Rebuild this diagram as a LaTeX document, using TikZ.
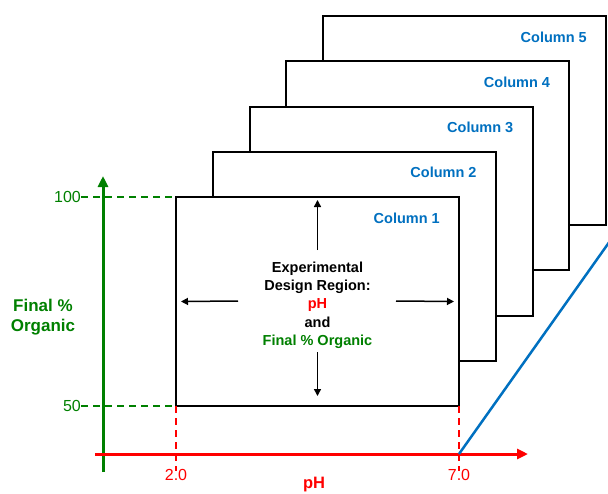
\documentclass[tikz,border=0pt]{standalone}
\usepackage{fontspec}
\setmainfont{Liberation Sans}
\usetikzlibrary{arrows.meta}
\definecolor{axgreen}{RGB}{0,128,0}
\definecolor{axred}{RGB}{255,0,0}
\definecolor{colblue}{RGB}{0,112,192}
\begin{document}
\begin{tikzpicture}[x=1pt,y=-1pt,
  colbox/.style={rectangle,draw=black,line width=2pt,fill=white,
    minimum width=283pt,minimum height=209pt,inner sep=0pt,outer sep=0pt},
  collabel/.style={text=colblue,font=\fontsize{14.5}{17}\selectfont\bfseries,
    anchor=east,inner sep=0pt},
  ticklabel/.style={font=\fontsize{16}{19}\selectfont,inner sep=0pt},
  axisline/.style={line width=3pt,-{Triangle[length=11pt,width=10pt]}},
  guide/.style={line width=1.5pt,dash pattern=on 7pt off 5pt},
  spread/.style={line width=1.5pt,-{Triangle[length=7pt,width=7pt]}},
]
\useasboundingbox (0,0) rectangle (608,493);

% stacked column design regions, back to front
\foreach \i in {5,4,3,2,1}{
  \node[colbox] (col\i) at ({317.5+36.75*(\i-1)},{301.5-45.25*(\i-1)}) {};
  \node[collabel] (lab\i) at ([xshift=-19pt,yshift=-21pt]col\i.north east) {Column \i};
}

% central description
\node[align=center,font=\fontsize{14.5}{18.3}\selectfont\bfseries,inner sep=0pt]
  (region) at (317.5,305) {Experimental\\Design Region:\\\textcolor{axred}{pH}\\and\\\textcolor{axgreen}{Final \% Organic}};

% arrows spreading out from the description
\coordinate (aU) at (317.5,250);
\coordinate (aD) at (317.5,352);
\coordinate (aL) at (238,301);
\coordinate (aR) at (396,301);
\draw[spread] (aU) -- ([yshift=-3pt]col1.north);
\draw[spread] (aD) -- ([yshift=10pt]col1.south);
\draw[spread] (aL) -- ([xshift=5pt]col1.west);
\draw[spread] (aR) -- ([xshift=-5pt]col1.east);

% axes
\coordinate (ybot) at (103,472);
\coordinate (ytop) at (103,176);
\coordinate (xleft) at (95,454);
\coordinate (xright) at (528,454);
\draw[axisline,axgreen] (ybot) -- (ytop);
\draw[axisline,axred] (xleft) -- (xright);

% vertical axis labels and guides
\node[ticklabel,text=axgreen,anchor=east] (t100) at (81,197) {100};
\node[ticklabel,text=axgreen,anchor=east] (t50) at (81,406) {50};
\draw[guide,axgreen] (t100.east) -- (col1.north west);
\draw[guide,axgreen] (t50.east) -- (col1.south west);
\node[align=center,text=axgreen,font=\fontsize{17}{20.5}\selectfont\bfseries,inner sep=0pt]
  (ylab) at (43,317) {Final \%\\Organic};

% horizontal axis labels and guides
\node[ticklabel,text=axred] (t2) at (176,475) {2.0};
\node[ticklabel,text=axred] (t7) at (459,475) {7.0};
\draw[guide,axred] (col1.south west) -- ([yshift=-2pt]t2.north);
\draw[guide,axred] (col1.south east) -- ([yshift=-2pt]t7.north);
\node[text=axred,font=\fontsize{16.5}{19}\selectfont\bfseries,inner sep=0pt]
  (xlab) at (314,485) {pH};

% column axis
\coordinate (zend) at (610,241);
\draw[colblue,line width=2.5pt] (xleft -| t7) -- (zend);
\end{tikzpicture}
\end{document}
